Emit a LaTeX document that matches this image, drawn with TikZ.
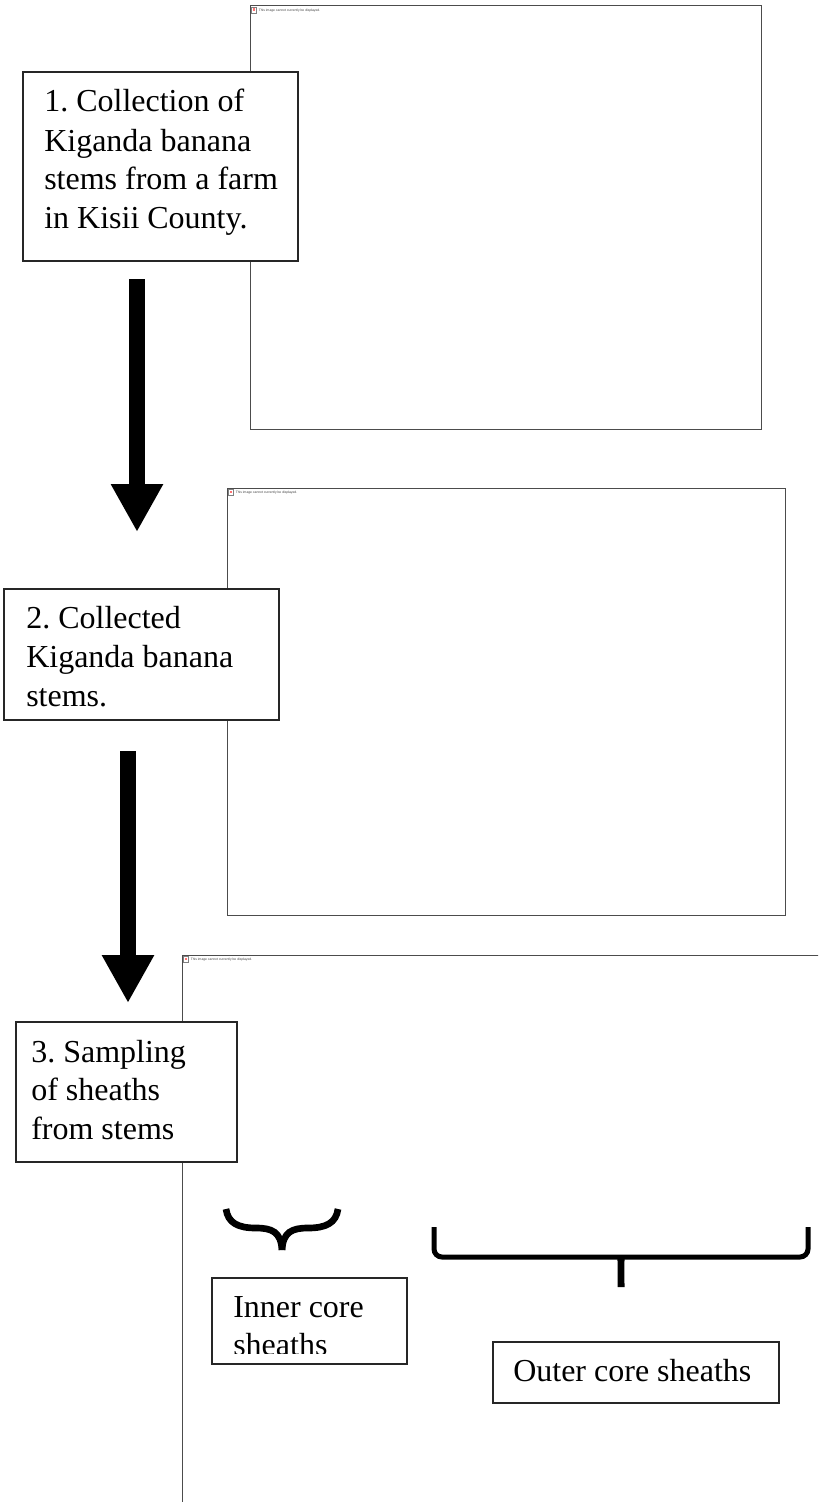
\documentclass[tikz,border=0pt]{standalone}
\usepackage{fontspec}
\setmainfont{Liberation Serif}
\newfontfamily\placeholderfont{Liberation Sans}
\usetikzlibrary{arrows.meta,fit}
\frenchspacing
\begin{document}
\begin{tikzpicture}[x=0.75pt,y=-0.75pt,
  frame/.style={draw=black!70,line width=0.75pt,inner sep=0pt},
  stepbox/.style={draw=black!85,line width=1pt,fill=white,inner sep=0pt},
  txtline/.style={anchor=base west,inner sep=0pt,font=\fontsize{24}{29}\selectfont},
  missing/.style={anchor=west,inner sep=0pt,font=\placeholderfont\fontsize{2.5}{3}\selectfont,text=black!75},
  flowarrow/.style={line width=12pt,-{Triangle[length=36pt,width=36.75pt]}},
  bracesmall/.style={line width=5pt,line cap=butt},
  bracebig/.style={line width=3.75pt,line cap=butt,rounded corners=6pt},
]
\useasboundingbox (0,0) rectangle (818,1502);
\clip (0,0) rectangle (818,1502);

% picture frames with their missing-image notice
\node[frame,fit={(250,6) (761,429)}] (img1) {};
\node[frame,fit={(227,488) (785,915)}] (img2) {};
\node[frame,fit={(182,955) (830,1530)}] (img3) {};
\foreach \n in {img1,img2,img3}{
  \draw[black!50,line width=0.3pt,fill=white] ([shift={(2,2)}]\n.north west) rectangle ([shift={(7,8)}]\n.north west);
  \fill[red!55] ([shift={(3,3)}]\n.north west) rectangle ([shift={(5.5,5.5)}]\n.north west);
  \node[missing] (\n-note) at ([shift={(9,5)}]\n.north west) {This image cannot currently be displayed.};
}

% step boxes
\node[stepbox,fit={(23,72) (298,261)}] (box1) {};
\node[stepbox,fit={(4,589) (279,720)}] (box2) {};
\node[stepbox,fit={(16,1022) (237,1162)}] (box3) {};
\node[stepbox,fit={(212,1278) (407,1364)}] (inner) {};
\node[stepbox,fit={(493,1342) (779,1403)}] (outer) {};

\node[txtline] (t1a) at (44,112) {1. Collection of};
\node[txtline] (t1b) at (44,151) {Kiganda banana};
\node[txtline] (t1c) at (44,189) {stems from a farm};
\node[txtline] (t1d) at (44,228) {in Kisii County.};

\node[txtline] (t2a) at (26,628) {2. Collected};
\node[txtline] (t2b) at (26,667) {Kiganda banana};
\node[txtline] (t2c) at (26,706) {stems.};

\node[txtline] (t3a) at (31,1062) {3. Sampling};
\node[txtline] (t3b) at (31,1100) {of sheaths};
\node[txtline] (t3c) at (31,1139) {from stems};

\begin{scope}
  \clip (213,1279) rectangle (406,1353);
  \node[txtline] (tia) at (233,1317) {Inner core};
  \node[txtline] (tib) at (233,1355) {sheaths};
\end{scope}

\node[txtline] (toa) at (513,1381) {Outer core sheaths};

% flow arrows
\coordinate (a1s) at (137,279);
\coordinate (a1e) at (137,532);
\draw[flowarrow] (a1s) -- (a1e);
\coordinate (a2s) at (128,751);
\coordinate (a2e) at (128,1003);
\draw[flowarrow] (a2s) -- (a2e);

% small brace over the inner core sheaths
\draw[bracesmall] (226,1209) .. controls (228,1223) and (238,1228) .. (256,1228)
  .. controls (272,1228) and (281,1232) .. (282,1250);
\draw[bracesmall] (338,1209) .. controls (336,1223) and (326,1228) .. (308,1228)
  .. controls (292,1228) and (283,1232) .. (282,1250);

% wide brace over the outer core sheaths
\draw[bracebig] (434,1227) -- (434,1257) -- (808,1257) -- (808,1227);
\fill (615.5,1255) .. controls (618.5,1258) and (617.5,1263) .. (617.5,1287)
  -- (624.5,1287) .. controls (624.5,1263) and (623.5,1258) .. (626.5,1255) -- cycle;
\end{tikzpicture}
\end{document}
